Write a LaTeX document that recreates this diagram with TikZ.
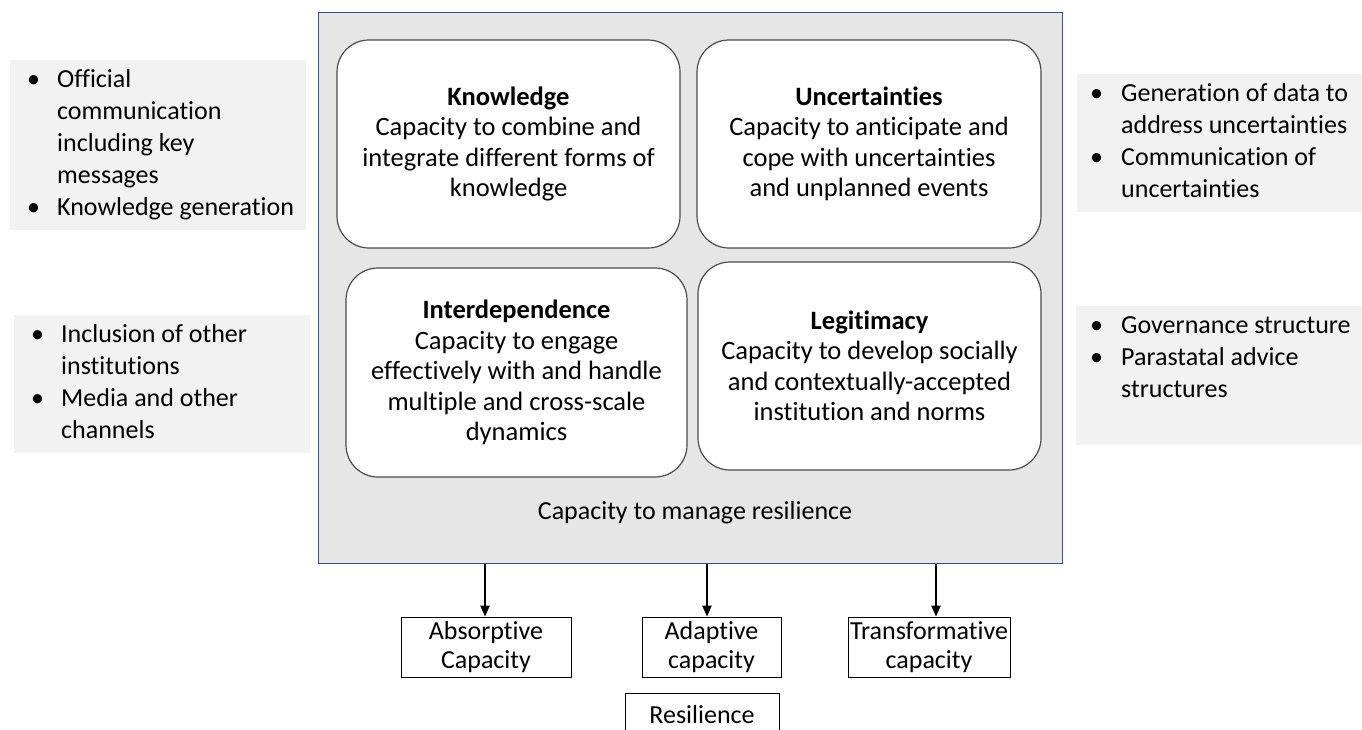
\documentclass[tikz,border=0pt]{standalone}
\usepackage{fontspec}
\setmainfont{Carlito}[Ligatures=NoCommon]
\usetikzlibrary{arrows,arrows.meta}
\definecolor{panelgrey}{RGB}{242,242,242}
\definecolor{framegrey}{RGB}{230,230,230}
\definecolor{frameblue}{RGB}{47,82,143}

\begin{document}
\begin{tikzpicture}[x=1pt,y=-1pt,
  capbox/.style={draw=black!70,line width=1.2pt,fill=white,rounded corners=32pt,
    minimum width=343,minimum height=208,align=center,font=\fontsize{26.5}{30.5}\selectfont},
  panel/.style={fill=panelgrey,inner sep=0pt,anchor=north west},
  bullets/.style={inner sep=0pt,font=\fontsize{26}{32}\selectfont},
  outbox/.style={draw,line width=0.8pt,fill=white,align=center,minimum height=60,
    inner xsep=1pt,font=\fontsize{26}{29}\selectfont}]
  \useasboundingbox (0,0) rectangle (1362,729);
  \clip (0,0) rectangle (1362,729);

  % frame with the four capacities
  \node[draw=frameblue,line width=0.8pt,fill=framegrey,inner sep=0pt,anchor=north west,
    minimum width=744,minimum height=551] (frame) at (318,12) {};
  \node[capbox] (know) at (508.5,144)
    {\textbf{Knowledge}\\Capacity to combine and\\integrate different forms of\\knowledge};
  \node[capbox,minimum width=344] (uncert) at (869,144)
    {\textbf{Uncertainties}\\Capacity to anticipate and\\cope with uncertainties\\and unplanned events};
  \node[capbox,minimum width=341,minimum height=209] (interdep) at (516.5,372.5)
    {\textbf{Interdependence}\\Capacity to engage\\effectively with and handle\\multiple and cross-scale\\dynamics};
  \node[capbox] (legit) at (869.5,366)
    {\textbf{Legitimacy}\\Capacity to develop socially\\and contextually-accepted\\institution and norms};
  \node[font=\fontsize{26}{30}\selectfont] (manage) at (695,513) {Capacity to manage resilience};

  % side panels
  \node[panel,minimum width=296,minimum height=170] (offic) at (10,60) {};
  \node[bullets,anchor=west] (officlist) at ([xshift=17]offic.west)
    {\begin{tabular}{@{}p{30pt}@{}l@{}}
      \textbullet & Official\\ & communication\\ & including key\\ & messages\\
      \textbullet & Knowledge generation
    \end{tabular}};
  \node[panel,minimum width=296,minimum height=138] (incl) at (14,315) {};
  \node[bullets,anchor=west] (incllist) at ([xshift=17]incl.west)
    {\begin{tabular}{@{}p{30pt}@{}l@{}}
      \textbullet & Inclusion of other\\ & institutions\\
      \textbullet & Media and other\\ & channels
    \end{tabular}};
  \node[panel,minimum width=285,minimum height=138] (gendata) at (1077,74) {};
  \node[bullets,anchor=west] (gendatalist) at ([xshift=13]gendata.west)
    {\begin{tabular}{@{}p{31pt}@{}l@{}}
      \textbullet & Generation of data to\\ & address uncertainties\\
      \textbullet & Communication of\\ & uncertainties
    \end{tabular}};
  \node[panel,minimum width=286,minimum height=139] (govern) at (1076,306) {};
  \node[bullets,anchor=north west] (governlist) at ([xshift=14,yshift=-5]govern.north west)
    {\begin{tabular}{@{}p{31pt}@{}l@{}}
      \textbullet & Governance structure\\
      \textbullet & Parastatal advice\\ & structures
    \end{tabular}};

  % outcomes
  \node[outbox,minimum width=170] (absorb) at (486,647) {Absorptive\\Capacity};
  \node[outbox,minimum width=139] (adapt) at (711.5,647) {Adaptive\\capacity};
  \node[outbox,minimum width=162] (transf) at (929,647) {Transformative\\capacity};
  \node[outbox,minimum width=154,minimum height=42,anchor=north] (resil) at (702,693) {Resilience};

  \coordinate (absorbin) at ([xshift=-1]absorb.north);
  \coordinate (adaptin) at ([xshift=-4.5]adapt.north);
  \coordinate (transfin) at ([xshift=7]transf.north);
  \path[-{Triangle[length=11pt,width=9pt]},line width=2.2pt]
    (frame.south -| absorbin) edge (absorbin)
    (frame.south -| adaptin) edge (adaptin)
    (frame.south -| transfin) edge (transfin);
\end{tikzpicture}
\end{document}
